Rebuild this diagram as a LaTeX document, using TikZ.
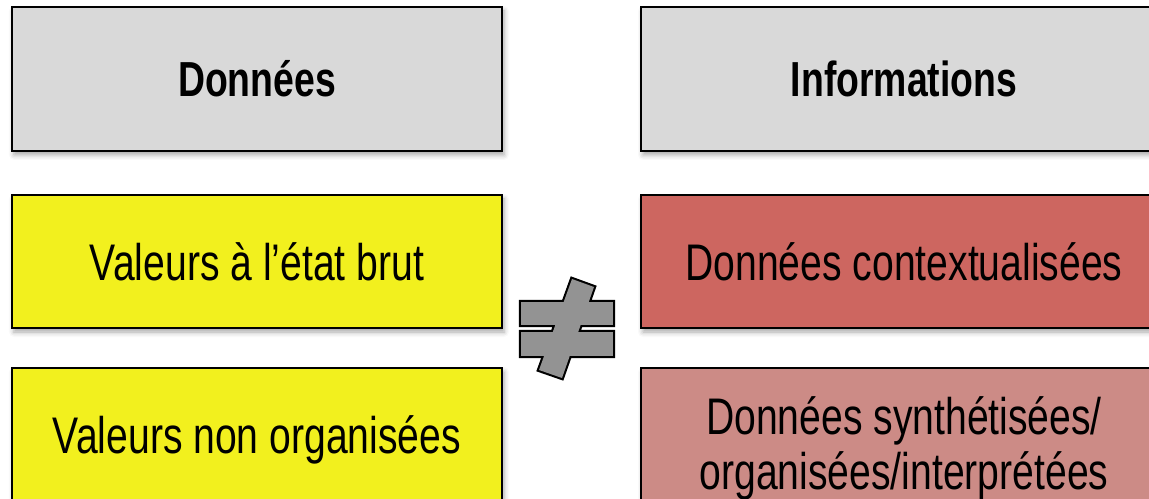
\documentclass[tikz,border=0pt]{standalone}
\usepackage{fontspec}
\setmainfont{Liberation Sans}[FakeStretch=0.76]
\usetikzlibrary{positioning}
\usetikzlibrary{shadows.blur}

\definecolor{boxgray}{RGB}{217,217,217}
\definecolor{boxyellow}{RGB}{242,240,30}
\definecolor{boxred}{RGB}{205,102,96}
\definecolor{boxpink}{RGB}{204,139,134}
\definecolor{signgray}{RGB}{147,147,147}

\begin{document}
\begin{tikzpicture}[x=0.02cm, y=-0.02cm]
    \tikzset{
        box/.style={draw=black, line width=1.1pt, rectangle, inner sep=0pt,
            minimum width=490*0.02cm,
            blur shadow={shadow xshift=0.04cm, shadow yshift=-0.08cm, shadow blur radius=0.1cm, shadow opacity=35},
            font=\fontsize{29.3}{31.2}\selectfont, align=center},
        headbox/.style={box, fill=boxgray, minimum height=144*0.02cm, font=\fontsize{28}{30}\selectfont\bfseries},
        rightbox/.style={minimum width=526*0.02cm}
    }

    \useasboundingbox (0,0) rectangle (1149,499);

    % en-tetes
    \node [headbox] (donnees) at (257, 79) {Données};
    \node [headbox, rightbox] (infos) at (904, 79) {Informations};

    % deuxieme ligne
    \node [box, fill=boxyellow, minimum height=133*0.02cm] (brut) at (257, 261.5) {Valeurs à l’état brut};
    \node [box, rightbox, fill=boxred, minimum height=133*0.02cm] (context) at (904, 261.5) {Données contextualisées};

    % troisieme ligne (coupee en bas)
    \node [box, fill=boxyellow, minimum height=143*0.02cm] (nonorg) at (257, 439.5) {Valeurs non organisées};
    \node [box, rightbox, fill=boxpink, minimum height=161*0.02cm] (synth) at (904, 448.5) {Données synthétisées/\\organisées/interprétées};

    % signe different
    \coordinate (A1) at (521, 302);
    \coordinate (A2) at (613, 325);
    \coordinate (B1) at (521, 332);
    \coordinate (B2) at (613, 356);
    \coordinate (S1) at (572, 279);
    \coordinate (S2) at (594, 287);
    \coordinate (S3) at (562, 378);
    \coordinate (S4) at (539, 370);
    \begin{scope}[blur shadow={shadow xshift=0.04cm, shadow yshift=-0.08cm, shadow blur radius=0.1cm, shadow opacity=35}]
        \fill [white, opacity=0] (A1) rectangle (A2) (B1) rectangle (B2) (S1) -- (S2) -- (S3) -- (S4) -- cycle;
    \end{scope}
    \draw [black, line width=2.4pt, line join=miter] (A1) rectangle (A2) (B1) rectangle (B2) (S1) -- (S2) -- (S3) -- (S4) -- cycle;
    \fill [signgray] (A1) rectangle (A2);
    \fill [signgray] (B1) rectangle (B2);
    \fill [signgray] (S1) -- (S2) -- (S3) -- (S4) -- cycle;

\end{tikzpicture}
\end{document}
